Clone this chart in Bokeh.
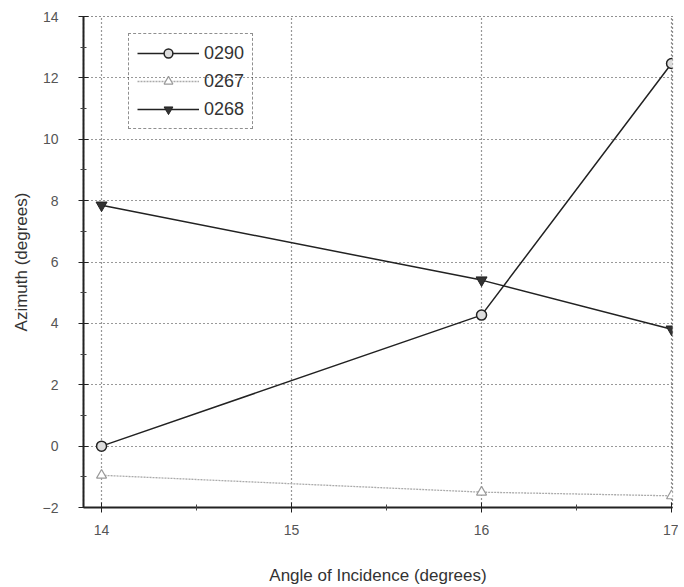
from bokeh.plotting import figure
from bokeh.embed import file_html
from bokeh.resources import INLINE
from bokeh.models import FixedTicker, Legend, LegendItem

angles = [14, 16, 17]
s0290 = [0.0, 4.27, 12.47]
s0267 = [-0.95, -1.50, -1.62]
s0268 = [7.85, 5.41, 3.81]
names = ["0290", "0267", "0268"]
x_ticks = [14, 15, 16, 17]
y_ticks = [-2, 0, 2, 4, 6, 8, 10, 12, 14]

FONT = "Liberation Sans"

p = figure(output_backend="svg", toolbar_location=None,
           frame_width=589, frame_height=491,
           x_range=(13.905, 17.005), y_range=(-2, 14),
           min_border_left=83, min_border_top=16, min_border_right=6, min_border_bottom=8)

p.outline_line_color = "#222222"
p.outline_line_dash = "1 3"
p.outline_line_width = 1.2

for ax in (p.xaxis[0], p.yaxis[0]):
    ax.axis_line_width = 2
    ax.axis_line_color = "#222222"
    ax.major_tick_line_color = "#222222"
    ax.minor_tick_line_color = "#444444"
    ax.major_tick_in = 5
    ax.major_tick_out = 5
    ax.minor_tick_in = 3
    ax.minor_tick_out = 3
    ax.major_label_text_font = FONT
    ax.major_label_text_font_size = "14px"
    ax.major_label_text_color = "#555555"
    ax.axis_label_text_font = FONT
    ax.axis_label_text_font_size = "17px"
    ax.axis_label_text_font_style = "normal"
    ax.axis_label_text_color = "#333333"

p.xaxis.ticker = FixedTicker(ticks=x_ticks, minor_ticks=[14.5, 15.5, 16.5])
p.yaxis.ticker = FixedTicker(ticks=y_ticks, minor_ticks=[-1, 1, 3, 5, 7, 9, 11, 13])
p.xaxis.axis_label = "Angle of Incidence (degrees)"
p.yaxis.axis_label = "Azimuth (degrees)"
p.xaxis.major_label_standoff = 12
p.xaxis.axis_label_standoff = 28
p.yaxis.major_label_standoff = 20
p.yaxis.axis_label_standoff = 9

p.grid.grid_line_color = "#333333"
p.grid.grid_line_dash = "1 3"
p.grid.grid_line_width = 1.2

l1 = p.line(angles, s0290, line_color="#222222", line_width=1.5)
m1 = p.scatter(angles, s0290, marker="circle", size=10, fill_color="#dddddd",
               line_color="#222222", line_width=1.5)
l2 = p.line(angles, s0267, line_color="#aaaaaa", line_width=1.3, line_dash="2 1")
m2 = p.scatter(angles, s0267, marker="triangle", size=10, fill_color="white",
               line_color="#999999", line_width=1.2)
l3 = p.line(angles, s0268, line_color="#222222", line_width=1.5)
m3 = p.scatter(angles, s0268, marker="inverted_triangle", size=11, fill_color="#333333",
               line_color="#222222", line_width=1)

legend = Legend(items=[LegendItem(label=names[0], renderers=[l1, m1]),
                       LegendItem(label=names[1], renderers=[l2, m2]),
                       LegendItem(label=names[2], renderers=[l3, m3])],
                location=(45, 378))
legend.border_line_color = "#222222"
legend.border_line_dash = "1 2"
legend.border_line_width = 1
legend.background_fill_alpha = 0
legend.label_text_font = FONT
legend.label_text_font_size = "18px"
legend.label_text_color = "#333333"
legend.glyph_width = 62
legend.glyph_height = 22
legend.spacing = 6
legend.padding = 8
legend.margin = 0
p.add_layout(legend, "center")

open("out.html", "w").write(file_html(p, INLINE))
